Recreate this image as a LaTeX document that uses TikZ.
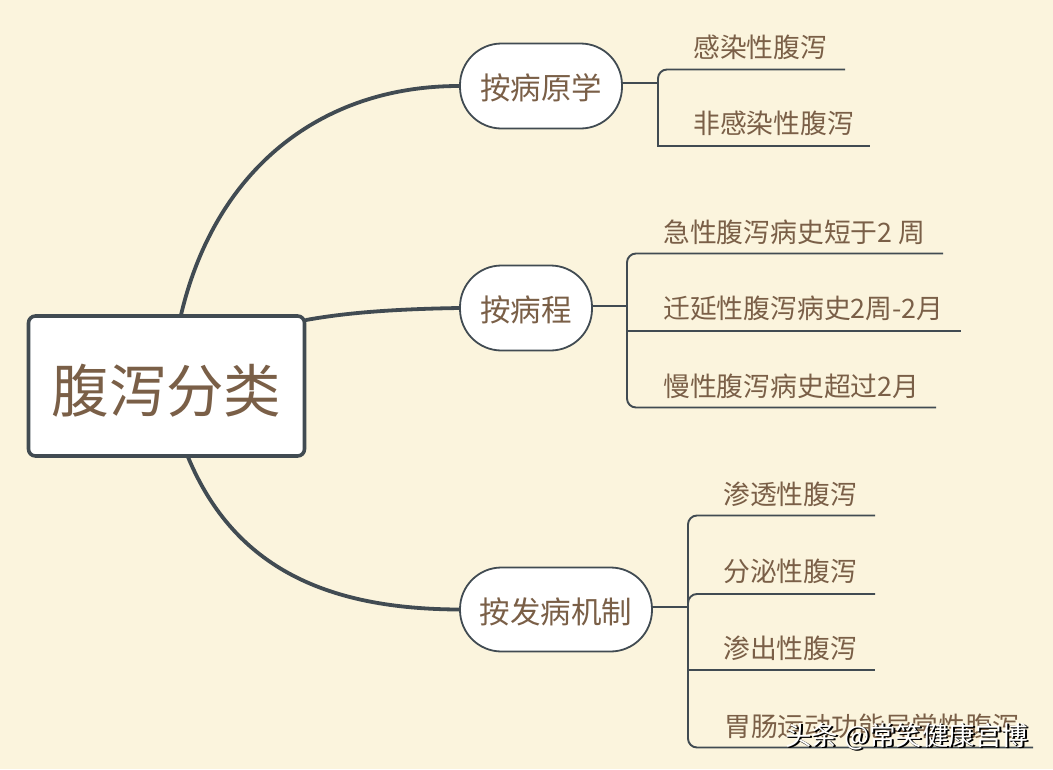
\documentclass[tikz,border=0pt]{standalone}
\usepackage{fontspec}
\setmainfont{Noto Sans CJK SC}
\definecolor{bgc}{HTML}{FBF4DD}
\definecolor{linec}{HTML}{414B52}
\definecolor{textc}{HTML}{7A5F47}
\tikzset{
 x=1pt,y=-1pt,
 conn/.style={draw=linec,line width=1.9pt,rounded corners=9pt},
 mainc/.style={draw=linec,line width=3.8pt,line cap=round},
 rootbox/.style={draw=linec,fill=white,line width=3.6pt,rounded corners=7pt,minimum width=276pt,minimum height=140pt,inner sep=0pt,text height=52pt,text depth=0pt,font=\fontsize{57.5}{60}\selectfont,text=textc},
 pill/.style={draw=linec,fill=white,line width=1.8pt,rounded corners=41.5pt,minimum height=85pt,inner sep=0pt,text height=27pt,text depth=0pt,font=\fontsize{30.5}{34}\selectfont,text=textc},
 leaf/.style={anchor=base west,inner sep=0pt,font=\fontsize{26.8}{30}\selectfont,text=textc},
 wm/.style={anchor=base west,inner sep=0pt,font=\fontsize{26.5}{30}\selectfont,text=white}
}
\begin{document}
\begin{tikzpicture}
\useasboundingbox[fill=bgc] (0,0) rectangle (1053,769);
% nodes
\node[rootbox] (root) at (166.5,386) {腹泻分类};
\node[pill,minimum width=162pt] (a) at (541,86) {按病原学};
\node[pill,minimum width=132pt] (b) at (526,308) {按病程};
\node[pill,minimum width=192pt,minimum height=84pt] (c) at (556,609.5) {按发病机制};
% anchors on the root
\coordinate (ra) at (181,315);
\coordinate (rb) at (306,320);
\coordinate (rc) at (188,457);
% main branches
\draw[mainc] (ra) .. controls (215,170) and (320,86) .. (a.west);
\draw[mainc] (rb) .. controls (350,312) and (400,309) .. (b.west);
\draw[mainc] (rc) .. controls (235,570) and (330,609) .. (c.west);
% leaves: group a
\node[leaf] (a1) at (693,57) {感染性腹泻};
\node[leaf] (a2) at (693,133) {非感染性腹泻};
\coordinate (a1e) at (845,69.5);
\coordinate (a2e) at (870,146);
\coordinate (aj) at (658,83);
\draw[conn] (a.east |- aj) -- (aj);
\draw[conn] (a1e) -- (658,69.5) -- (658,120);
\draw[conn,rounded corners=0pt] (658,100) -- (658,146) -- (a2e);
% leaves: group b
\node[leaf] (b1) at (663,242.5) {急性腹泻病史短于2 周};
\node[leaf] (b2) at (663,318.5) {迁延性腹泻病史2周-2月};
\node[leaf] (b3) at (663,396) {慢性腹泻病史超过2月};
\coordinate (b1e) at (943,253.5);
\coordinate (b2e) at (961,331);
\coordinate (b3e) at (936,407.5);
\coordinate (bj) at (627,306);
\draw[conn] (b.east |- bj) -- (bj);
\draw[conn] (b1e) -- (627,253.5) -- (627,407.5) -- (b3e);
\draw[conn] (627,331) -- (b2e);
% leaves: group c
\node[leaf] (c1) at (723,504.5) {渗透性腹泻};
\node[leaf] (c2) at (723,581) {分泌性腹泻};
\node[leaf] (c3) at (723,658.5) {渗出性腹泻};
\node[leaf] (c4) at (724,736) {胃肠运动功能异常性腹泻};
\coordinate (c1e) at (875,515.5);
\coordinate (c2e) at (875,594);
\coordinate (c3e) at (875,670);
\coordinate (c4e) at (1033,747.5);
\coordinate (cj) at (688,607);
\draw[conn] (c.east |- cj) -- (cj);
\draw[conn] (c1e) -- (688,515.5) -- (688,747.5) -- (c4e);
\draw[conn] (c2e) -- (688,594) -- (688,620);
\draw[conn] (688,670) -- (c3e);
% watermark
\node[wm,text=black] (wms) at (787,746.5) {头条 @常笑健康宫博};
\node[wm,text=black] (wms2) at (786,746) {头条 @常笑健康宫博};
\node[wm] (wmt) at (785,745) {头条 @常笑健康宫博};
\end{tikzpicture}
\end{document}
